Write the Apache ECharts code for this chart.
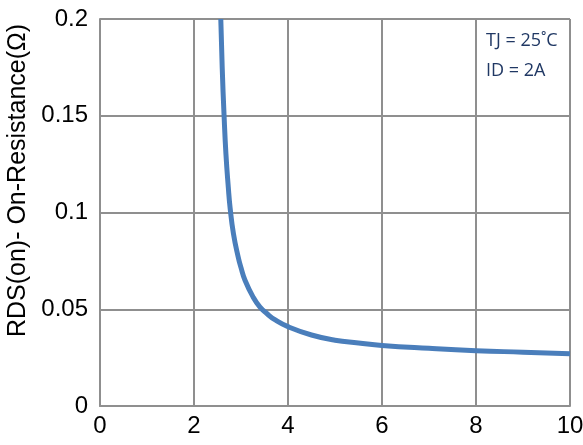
<!DOCTYPE html>
<html>
<head>
<meta charset="utf-8">
<script src="https://cdn.jsdelivr.net/npm/echarts@6/dist/echarts.min.js"></script>
<style>
  html, body { margin: 0; padding: 0; background: #fff; }
  #chart { width: 583px; height: 445px; }
</style>
</head>
<body>
<div id="chart"></div>
<script>
// --- Data ---
const vgs = [2.57, 2.6, 2.64, 2.68, 2.73, 2.77, 2.84, 2.94, 3.0, 3.085, 3.26, 3.4, 3.55, 3.72, 4, 4.5, 5, 5.5, 6, 7, 8, 9, 10];
const rdsOn = [0.2, 0.175, 0.15, 0.13, 0.113, 0.102, 0.089, 0.077, 0.0715, 0.065, 0.0562, 0.0512, 0.0478, 0.0446, 0.041, 0.0367, 0.034, 0.0326, 0.0313, 0.0298, 0.0286, 0.0278, 0.027];
const xTicks = [0, 2, 4, 6, 8, 10];
const yTicks = [0, 0.05, 0.1, 0.15, 0.2];
const notes = ['TJ = 25˚C', 'ID = 2A'];

const chart = echarts.init(document.getElementById('chart'));

const gridColor = '#8f8f8f';
const fontArial = 'Liberation Sans, Arial, sans-serif';

chart.setOption({
    animation: false,
    grid: { left: 100, right: 13, top: 19, bottom: 39, outerBoundsMode: 'none' },
    xAxis: {
        type: 'value',
        min: xTicks[0],
        max: xTicks[xTicks.length - 1],
        interval: 2,
        axisLine: { lineStyle: { color: gridColor, width: 2 } },
        axisTick: { show: false },
        axisLabel: { margin: 8, color: '#000', fontSize: 24, fontFamily: fontArial },
        splitLine: { lineStyle: { color: gridColor, width: 2 } }
    },
    yAxis: {
        type: 'value',
        min: yTicks[0],
        max: yTicks[yTicks.length - 1],
        interval: 0.05,
        name: 'RDS(on)- On-Resistance(Ω)',
        nameLocation: 'middle',
        nameGap: 67,
        nameTextStyle: { color: '#000', fontSize: 25, fontFamily: fontArial, padding: [0, 0, 0, 64] },
        axisLine: { show: true, lineStyle: { color: gridColor, width: 2 } },
        axisTick: { show: false },
        axisLabel: { margin: 12, color: '#000', fontSize: 24, fontFamily: fontArial },
        splitLine: { lineStyle: { color: gridColor, width: 2 } }
    },
    graphic: notes.map((t, i) => ({
        type: 'text',
        left: 486,
        top: 32 + i * 30,
        style: {
            text: t,
            fill: '#203864',
            fontSize: 18,
            fontFamily: 'Open Sans, sans-serif'
        }
    })),
    series: [{
        type: 'line',
        data: vgs.map((v, i) => [v, rdsOn[i]]),
        smooth: 0.5,
        showSymbol: false,
        clip: true,
        lineStyle: { color: '#4a7ebb', width: 5 }
    }]
});
</script>
</body>
</html>
